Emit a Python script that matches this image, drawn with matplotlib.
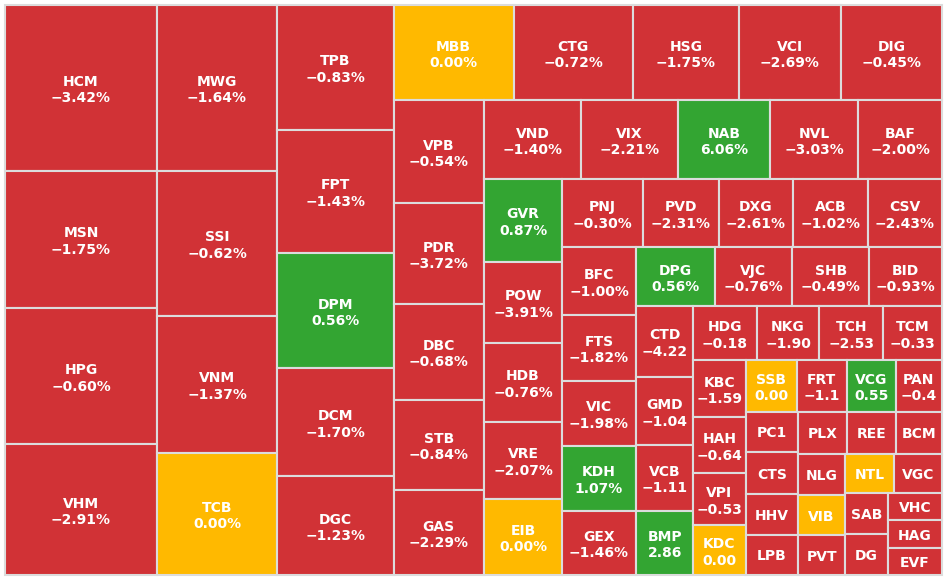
import matplotlib
matplotlib.use("Agg")
import matplotlib.pyplot as plt
from matplotlib.patches import Rectangle

# ---------------- data ----------------
tickers = ["HCM", "MSN", "HPG", "VHM", "MWG", "SSI", "VNM", "TCB",
           "TPB", "FPT", "DPM", "DCM", "DGC",
           "MBB", "CTG", "HSG", "VCI", "DIG",
           "VPB", "PDR", "DBC", "STB", "GAS",
           "VND", "VIX", "NAB", "NVL", "BAF",
           "GVR", "POW", "HDB", "VRE", "EIB",
           "PNJ", "PVD", "DXG", "ACB", "CSV",
           "BFC", "FTS", "VIC", "KDH", "GEX",
           "DPG", "VJC", "SHB", "BID",
           "CTD", "GMD", "VCB", "BMP",
           "HDG", "NKG", "TCH", "TCM",
           "KBC", "HAH", "VPI", "KDC",
           "SSB", "FRT", "VCG", "PAN",
           "PC1", "CTS", "HHV", "LPB",
           "PLX", "REE", "BCM",
           "NLG", "VIB", "PVT",
           "NTL", "VGC",
           "SAB", "DG",
           "VHC", "HAG", "EVF"]

# traded value (relative size of each box)
values = [2516, 2090, 2067, 1991, 1986, 1740, 1650, 1464,
          1456, 1433, 1340, 1258, 1153,
          1140, 1135, 1007, 969, 960,
          932, 914, 864, 819, 769,
          766, 766, 727, 695, 664,
          647, 632, 616, 601, 593,
          555, 517, 511, 512, 507,
          496, 492, 481, 481, 474,
          459, 453, 453, 424,
          405, 391, 371, 368,
          346, 343, 349, 319,
          299, 291, 276, 260,
          260, 258, 247, 237,
          215, 218, 215, 210,
          210, 206, 196,
          195, 186, 188,
          191, 187,
          174, 174,
          149, 149, 148]

# price change labels as displayed (None = not shown)
changes = ["−3.42%", "−1.75%", "−0.60%", "−2.91%", "−1.64%", "−0.62%", "−1.37%", "0.00%",
           "−0.83%", "−1.43%", "0.56%", "−1.70%", "−1.23%",
           "0.00%", "−0.72%", "−1.75%", "−2.69%", "−0.45%",
           "−0.54%", "−3.72%", "−0.68%", "−0.84%", "−2.29%",
           "−1.40%", "−2.21%", "6.06%", "−3.03%", "−2.00%",
           "0.87%", "−3.91%", "−0.76%", "−2.07%", "0.00%",
           "−0.30%", "−2.31%", "−2.61%", "−1.02%", "−2.43%",
           "−1.00%", "−1.82%", "−1.98%", "1.07%", "−1.46%",
           "0.56%", "−0.76%", "−0.49%", "−0.93%",
           "−4.22", "−1.04", "−1.11", "2.86",
           "−0.18", "−1.90", "−2.53", "−0.33",
           "−1.59", "−0.64", "−0.53", "0.00",
           "0.00", "−1.1", "0.55", "−0.4",
           None, None, None, None,
           None, None, None,
           None, None, None,
           None, None,
           None, None,
           None, None, None]

# d = down (red), u = up (green), r = reference / unchanged (yellow)
trend = ["d", "d", "d", "d", "d", "d", "d", "r",
         "d", "d", "u", "d", "d",
         "r", "d", "d", "d", "d",
         "d", "d", "d", "d", "d",
         "d", "d", "u", "d", "d",
         "u", "d", "d", "d", "r",
         "d", "d", "d", "d", "d",
         "d", "d", "d", "u", "d",
         "u", "d", "d", "d",
         "d", "d", "d", "u",
         "d", "d", "d", "d",
         "d", "d", "d", "r",
         "r", "d", "u", "d",
         "d", "d", "d", "d",
         "d", "d", "d",
         "d", "r", "d",
         "r", "d",
         "d", "d",
         "d", "d", "d"]

trend_colors = {"d": "#D13236", "u": "#33A532", "r": "#FFB900"}


# ---------------- squarified treemap layout ----------------
def normalize(sizes, dx, dy):
    tot = sum(sizes)
    return [s * dx * dy / tot for s in sizes]


def layoutrow(sizes, x, y, dx, dy):
    width = sum(sizes) / dy
    out = []
    for s in sizes:
        out.append((x, y, width, s / width))
        y += s / width
    return out


def layoutcol(sizes, x, y, dx, dy):
    height = sum(sizes) / dx
    out = []
    for s in sizes:
        out.append((x, y, s / height, height))
        x += s / height
    return out


def layout(sizes, x, y, dx, dy):
    return layoutrow(sizes, x, y, dx, dy) if dx >= dy else layoutcol(sizes, x, y, dx, dy)


def leftover(sizes, x, y, dx, dy):
    if dx >= dy:
        w = sum(sizes) / dy
        return x + w, y, dx - w, dy
    h = sum(sizes) / dx
    return x, y + h, dx, dy - h


def last_ratio(sizes, x, y, dx, dy):
    r = layout(sizes, x, y, dx, dy)[-1]
    return max(r[2] / r[3], r[3] / r[2])


def squarify(sizes, x, y, dx, dy):
    sizes = [float(s) for s in sizes]
    if not sizes:
        return []
    if len(sizes) == 1:
        return layout(sizes, x, y, dx, dy)
    i = 1
    while i < len(sizes) and last_ratio(sizes[:i + 1], x, y, dx, dy) <= last_ratio(sizes[:i], x, y, dx, dy):
        i += 1
    cur, rem = sizes[:i], sizes[i:]
    lx, ly, ldx, ldy = leftover(cur, x, y, dx, dy)
    return layout(cur, x, y, dx, dy) + squarify(rem, lx, ly, ldx, ldy)


# ---------------- draw ----------------
W, H = 947, 581
X0, Y0, DX, DY = 5, 5, 937, 570

fig = plt.figure(figsize=(W / 100, H / 100), dpi=100)
ax = fig.add_axes([0, 0, 1, 1])
ax.set_xlim(0, W)
ax.set_ylim(H, 0)
ax.axis("off")
fig.patch.set_facecolor("white")

rects = squarify(normalize(values, DX, DY), X0, Y0, DX, DY)

for (x, y, w, h), t, lab, tr in zip(rects, tickers, changes, trend):
    ax.add_patch(Rectangle((x, y), w, h, facecolor=trend_colors[tr],
                           edgecolor="#DCDCDC", linewidth=1.5))
    cx = x + w / 2
    cy = y + h / 2
    if lab is not None:
        ax.text(cx, cy - 2, t, ha="center", va="baseline", color="white",
                fontsize=10, fontweight="bold", family="DejaVu Sans")
        ax.text(cx, cy + 14.5, lab, ha="center", va="baseline", color="white",
                fontsize=10, fontweight="bold", family="DejaVu Sans")
    else:
        ax.text(cx, cy + 5.5, t, ha="center", va="baseline", color="white",
                fontsize=10, fontweight="bold", family="DejaVu Sans")

fig.savefig("out.png", dpi=100, facecolor="white")
